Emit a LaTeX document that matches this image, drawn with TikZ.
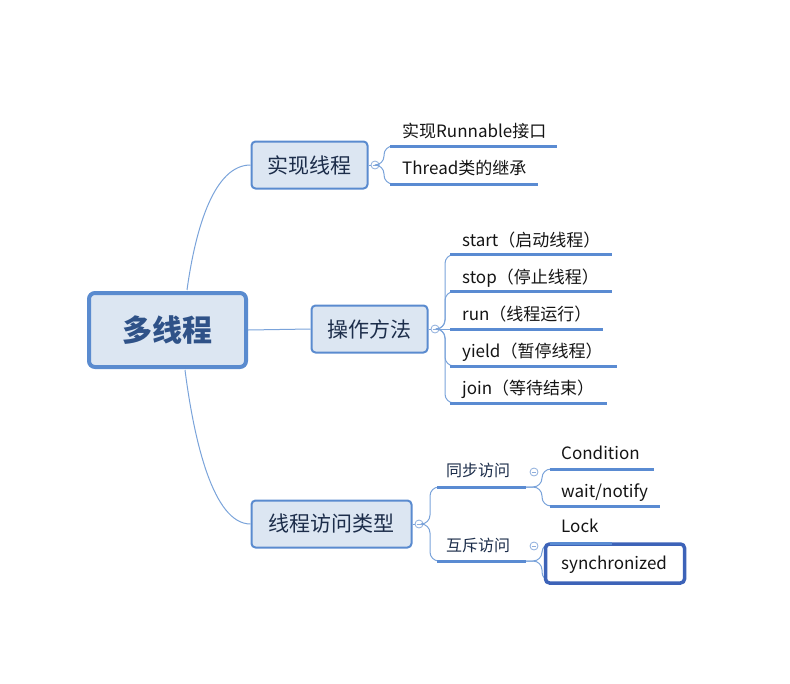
\documentclass[tikz,border=0pt]{standalone}
\usepackage{fontspec}
\setmainfont{Noto Sans CJK SC}
\definecolor{boxf}{HTML}{DCE6F2}
\definecolor{boxc}{HTML}{5A8BCF}
\definecolor{connc}{HTML}{7AA3DA}
\definecolor{ulc}{HTML}{5A8BD2}
\definecolor{togc}{HTML}{8EAEDC}
\definecolor{dark}{HTML}{1C2D4A}
\definecolor{roott}{HTML}{2F5288}
\definecolor{leaft}{HTML}{141414}
\definecolor{selc}{HTML}{3D63B8}
\begin{document}
\begin{tikzpicture}[x=1pt,y=-1pt,
  rootbox/.style={draw=boxc, line width=4pt, fill=boxf, rounded corners=6pt, minimum width=157pt, minimum height=74pt, text=roott, font=\fontsize{30}{32}\selectfont\bfseries, inner sep=0pt},
  branch/.style={draw=boxc, line width=2pt, fill=boxf, rounded corners=4pt, minimum height=47pt, text=dark, font=\fontsize{21}{24}\selectfont, inner sep=0pt},
  leaf/.style={anchor=base west, inner sep=0pt, font=\fontsize{17}{20}\selectfont, text=leaft},
  subt/.style={anchor=base west, inner sep=0pt, font=\fontsize{16}{19}\selectfont, text=dark},
  uline/.style={draw=ulc, line width=3pt},
  conn/.style={draw=connc, line width=1pt},
  brace/.style={draw=connc, line width=1pt, rounded corners=9pt},
  tog/.style={circle, draw=togc, fill=white, minimum size=8pt, inner sep=0pt, line width=0.8pt,
    path picture={\draw[togc,line width=0.8pt] ([xshift=-2.3pt]path picture bounding box.center) -- ([xshift=2.3pt]path picture bounding box.center);}},
  selbox/.style={draw=selc, line width=3.5pt, fill=white, rounded corners=4pt}
]
\useasboundingbox (0,0) rectangle (790,683);

% main nodes
\node[rootbox] (root) at (167.5,330) {多线程};
\node[branch, minimum width=116pt] (b1) at (309.5,165) {实现线程};
\node[branch, minimum width=116pt] (b2) at (369.5,329) {操作方法};
\node[branch, minimum width=160pt] (b3) at (331.5,524) {线程访问类型};

% root connectors
\coordinate (r1) at (187,290);
\coordinate (r3) at (185,370);
\draw[conn] (r1) .. controls (196,225) and (215,165) .. (b1.west);
\draw[conn] (root.east) -- (b2.west);
\draw[conn] (r3) .. controls (194,440) and (213,524) .. (b3.west);

% toggles
\node[tog] (t1) at (375,165) {};
\node[tog] (t2) at (435,329) {};
\node[tog] (t3) at (419,524) {};
\node[tog] (t4) at (534,472) {};
\node[tog] (t5) at (534,546) {};
\draw[conn] (b1.east) -- (t1.west);
\draw[conn] (b2.east) -- (t2.west);
\draw[conn] (b3.east) -- (t3.west);

% group 1
\coordinate (g1a) at (390,146);
\coordinate (g1b) at (390,184);
\draw[brace] (t1.east) -| (384,146) -- (g1a);
\draw[brace] (t1.east) -| (384,184) -- (g1b);
\draw[uline] (g1a) -- (557,146);
\draw[uline] (g1b) -- (538,184);
\node[leaf] (l11) at (402,137) {实现Runnable接口};
\node[leaf] (l12) at (402,174) {Thread类的继承};

% group 2
\coordinate (g2a) at (450,254.5);
\coordinate (g2b) at (450,291.5);
\coordinate (g2c) at (450,329);
\coordinate (g2d) at (450,366);
\coordinate (g2e) at (450,403);
\draw[brace] (t2.east) -| (445,254.5) -- (g2a);
\draw[brace] (t2.east) -| (445,291.5) -- (g2b);
\draw[conn] (t2.east) -- (g2c);
\draw[brace] (t2.east) -| (445,366) -- (g2d);
\draw[brace] (t2.east) -| (445,403) -- (g2e);
\draw[uline] (g2a) -- (611.5,254.5);
\draw[uline] (g2b) -- (612,291.5);
\draw[uline] (g2c) -- (602.5,329);
\draw[uline] (g2d) -- (616.5,366);
\draw[uline] (g2e) -- (607,403);
\node[leaf] (l21) at (462,246) {start（启动线程）};
\node[leaf] (l22) at (462,283) {stop（停止线程）};
\node[leaf] (l23) at (462,320) {run（线程运行）};
\node[leaf] (l24) at (462,357) {yield（暂停线程）};
\node[leaf] (l25) at (462,394) {join（等待结束）};

% group 3
\coordinate (g3a) at (437,487);
\coordinate (g3b) at (437,561);
\draw[brace] (t3.east) -| (430,487) -- (g3a);
\draw[brace] (t3.east) -| (430,561) -- (g3b);
\coordinate (g3ae) at (526,487);
\coordinate (g3be) at (526,561);
\draw[uline] (g3a) -- (g3ae);
\draw[uline] (g3b) -- (g3be);
\node[subt] (s1) at (446,476) {同步访问};
\node[subt] (s2) at (446,551) {互斥访问};

% sub group 同步
\coordinate (g4a) at (550,469);
\coordinate (g4b) at (550,506);
\draw[brace] (g3ae) -| (542,469) -- (g4a);
\draw[brace] (g3ae) -| (542,506) -- (g4b);
\draw[uline] (g4a) -- (654,469);
\draw[uline] (g4b) -- (660,506);
\node[leaf] (l41) at (561,459) {Condition};
\node[leaf] (l42) at (561,497) {wait/notify};

% sub group 互斥
\coordinate (g5a) at (550,543.5);
\coordinate (g5b) at (550,581);
\draw[brace] (g3be) -| (542,543.5) -- (g5a);
\draw[brace] (g3be) -| (542,581) -- (g5b);
\draw[uline] (g5b) -- (680,581);
\node[selbox, minimum width=139pt, minimum height=39pt, inner sep=0pt] (sel) at (615,563.5) {};
\draw[uline, line width=2.5pt] (g5a) -- (612,543.5);
\node[leaf] (l51) at (561,532) {Lock};
\node[leaf] (l52) at (561,569) {synchronized};
\end{tikzpicture}
\end{document}
